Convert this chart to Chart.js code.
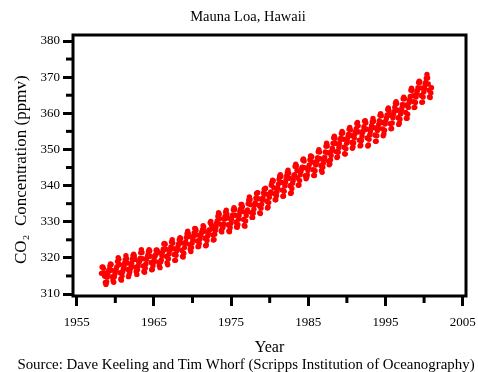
<!DOCTYPE html>
<html>
<head>
<meta charset="utf-8">
<script src="https://cdn.jsdelivr.net/npm/chart.js@4"></script>
<style>
  html, body { margin: 0; padding: 0; background: #fff; }
</style>
</head>
<body>
<canvas id="co2Chart" width="478" height="372"></canvas>
<script>
// Monthly CO2 at Mauna Loa (ppmv), starting March 1958
const firstYear = 1958;
const firstMonth = 3;

const co2_1950s = [
  315.71, 317.45, 317.50, 317.10, 315.86, 314.93, 313.20, 312.66, 313.33, 314.67,
  315.62, 316.38, 316.71, 317.72, 318.29, 318.15, 316.54, 314.80, 313.84, 313.26, 314.80, 315.58
];
const co2_1960s = [
  316.43, 316.97, 317.58, 319.02, 320.03, 319.59, 318.18, 315.91, 314.16, 313.83, 315.00, 316.19,
  316.93, 317.70, 318.54, 319.48, 320.58, 319.77, 318.57, 316.79, 314.80, 315.38, 316.10, 317.01,
  317.94, 318.56, 319.68, 320.63, 321.01, 320.55, 319.58, 317.40, 316.26, 315.42, 316.69, 317.69,
  318.74, 319.08, 319.86, 321.39, 322.25, 321.47, 319.74, 317.77, 316.21, 315.99, 317.12, 318.31,
  319.57, 320.07, 320.73, 321.77, 322.25, 321.89, 320.44, 318.70, 316.70, 316.79, 317.79, 318.71,
  319.44, 320.44, 320.89, 322.13, 322.16, 321.87, 321.39, 318.81, 317.81, 317.30, 318.87, 319.42,
  320.62, 321.59, 322.39, 323.87, 324.01, 323.75, 322.39, 320.37, 318.64, 318.10, 319.79, 321.08,
  322.07, 322.50, 323.04, 324.42, 325.00, 324.09, 322.55, 320.92, 319.31, 319.31, 320.72, 321.96,
  322.57, 323.15, 323.89, 325.02, 325.57, 325.36, 324.14, 322.03, 320.41, 320.25, 321.31, 322.84,
  324.00, 324.42, 325.64, 326.66, 327.38, 326.70, 325.89, 323.67, 322.38, 321.78, 322.85, 324.11
];
const co2_1970s = [
  325.03, 325.99, 326.87, 328.13, 328.07, 327.66, 326.35, 324.69, 323.10, 323.16, 323.98, 325.13,
  326.17, 326.68, 327.18, 327.78, 328.92, 328.57, 327.34, 325.46, 323.36, 323.57, 324.80, 326.01,
  326.77, 327.63, 327.75, 329.72, 330.07, 329.09, 328.05, 326.32, 324.93, 325.06, 326.50, 327.55,
  328.54, 329.56, 330.30, 331.50, 332.48, 332.07, 330.87, 329.31, 327.51, 327.18, 328.16, 328.64,
  329.35, 330.71, 331.48, 332.65, 333.16, 332.06, 330.99, 329.17, 327.41, 327.21, 328.34, 329.50,
  330.68, 331.41, 331.85, 333.29, 333.91, 333.40, 331.78, 329.88, 328.57, 328.46, 329.26, 330.67,
  331.71, 332.76, 333.48, 334.78, 334.78, 334.17, 332.78, 330.64, 328.95, 328.77, 330.23, 331.69,
  332.70, 333.24, 334.96, 336.04, 336.82, 336.13, 334.73, 332.52, 331.19, 331.19, 332.35, 333.47,
  334.71, 335.23, 336.54, 337.79, 337.95, 338.00, 336.37, 334.47, 332.46, 332.29, 333.76, 334.80,
  336.00, 336.63, 337.93, 338.95, 339.05, 339.27, 337.64, 335.68, 333.77, 334.09, 335.29, 336.76
];
const co2_1980s = [
  337.77, 338.26, 340.10, 340.88, 341.47, 341.31, 339.41, 337.74, 336.07, 336.07, 337.22, 338.38,
  339.32, 340.41, 341.69, 342.51, 343.02, 342.54, 340.88, 338.75, 337.05, 337.13, 338.45, 339.85,
  340.90, 341.70, 342.70, 343.65, 344.28, 343.42, 342.02, 339.97, 337.84, 338.00, 339.20, 340.63,
  341.41, 342.68, 343.04, 345.27, 345.92, 345.40, 344.16, 342.11, 340.11, 340.15, 341.38, 343.02,
  343.87, 344.59, 345.11, 347.07, 347.38, 346.78, 344.96, 342.71, 341.86, 342.21, 342.92, 344.14,
  344.99, 345.73, 347.13, 348.18, 348.16, 347.95, 346.53, 344.36, 342.81, 342.77, 344.13, 345.66,
  346.36, 346.79, 347.69, 349.38, 349.93, 349.26, 347.44, 345.55, 344.21, 343.67, 345.09, 346.27,
  347.33, 347.82, 349.29, 350.91, 351.71, 350.94, 349.10, 346.77, 345.73, 346.01, 347.18, 348.33,
  349.61, 350.31, 351.69, 353.17, 353.69, 353.10, 351.67, 349.38, 347.78, 347.95, 349.21, 350.45,
  351.51, 352.66, 353.11, 354.39, 354.99, 354.56, 352.80, 350.60, 348.81, 348.71, 350.21, 351.69
];
const co2_1990s = [
  352.71, 353.44, 354.12, 355.61, 356.10, 355.38, 353.83, 351.92, 350.34, 350.67, 351.79, 353.17,
  354.34, 354.88, 355.74, 357.18, 357.47, 356.52, 354.84, 352.53, 350.98, 351.17, 352.50, 353.67,
  354.68, 355.21, 356.31, 357.82, 357.97, 357.35, 355.60, 353.16, 350.97, 351.25, 352.79, 354.00,
  354.95, 355.86, 356.64, 357.68, 358.57, 357.81, 356.00, 353.99, 352.24, 352.25, 353.77, 355.23,
  356.16, 356.94, 357.97, 359.45, 359.89, 359.34, 357.45, 355.65, 353.80, 354.29, 355.33, 357.02,
  357.94, 358.70, 359.54, 361.08, 361.46, 360.65, 359.47, 357.13, 355.70, 355.82, 357.30, 358.77,
  359.77, 360.48, 361.67, 362.78, 363.22, 362.68, 360.83, 358.77, 356.92, 357.31, 358.37, 359.80,
  360.81, 361.49, 362.44, 364.03, 364.45, 364.00, 362.27, 360.21, 358.61, 358.62, 359.74, 361.63,
  362.89, 363.74, 364.63, 366.38, 366.92, 366.37, 364.84, 363.22, 361.57, 361.65, 362.97, 364.51,
  365.48, 366.25, 367.05, 368.52, 368.85, 368.59, 367.03, 364.93, 363.03, 363.09, 364.50, 365.86
];
const co2_2000 = [
  366.95, 367.82, 368.51, 369.69, 370.73, 369.78, 368.09, 366.36, 364.55, 364.38, 365.62, 367.08
];

const yearTicks = [1955, 1965, 1975, 1985, 1995, 2005];
const ppmvTicks = [310, 320, 330, 340, 350, 360, 370, 380];

const titleText = "Mauna Loa, Hawaii";
const sourceText = "Source: Dave Keeling and Tim Whorf (Scripps Institution of Oceanography)";

const allValues = [].concat(co2_1950s, co2_1960s, co2_1970s, co2_1980s, co2_1990s, co2_2000);
const points = allValues.map((v, i) => {
    const m = firstMonth - 1 + i;
    const year = firstYear + Math.floor(m / 12);
    return { x: year + ((m % 12) + 0.5) / 12, y: v };
});

const serif = "'Liberation Serif', 'Times New Roman', serif";

const frameAndText = {
    id: 'frameAndText',
    afterDraw: chart => {
        const ctx = chart.ctx;
        const a = chart.chartArea;
        ctx.save();
        ctx.strokeStyle = '#000';
        ctx.lineWidth = 3;
        ctx.strokeRect(a.left, a.top, a.right - a.left, a.bottom - a.top);

        // shorter minor ticks
        chart.scales.x.ticks.forEach(t => {
            if (!yearTicks.includes(t.value)) {
                const px = chart.scales.x.getPixelForValue(t.value);
                ctx.beginPath();
                ctx.moveTo(px, a.bottom);
                ctx.lineTo(px, a.bottom + 7);
                ctx.stroke();
            }
        });
        chart.scales.y.ticks.forEach(t => {
            if (!ppmvTicks.includes(t.value)) {
                const py = chart.scales.y.getPixelForValue(t.value);
                ctx.beginPath();
                ctx.moveTo(a.left, py);
                ctx.lineTo(a.left - 7, py);
                ctx.stroke();
            }
        });

        ctx.fillStyle = '#000';
        ctx.textAlign = 'center';
        ctx.textBaseline = 'middle';
        ctx.font = "14.5px " + serif;
        ctx.fillText(titleText, 248, 17);
        ctx.font = "14.9px " + serif;
        ctx.fillText(sourceText, 246, 365);
        ctx.restore();
    }
};

new Chart(document.getElementById("co2Chart").getContext("2d"), {
    type: 'scatter',
    data: {
        datasets: [{
            label: 'CO2',
            data: points,
            backgroundColor: '#ff0000',
            borderWidth: 0,
            pointRadius: 2.7,
            pointHoverRadius: 2.7
        }]
    },
    options: {
        responsive: false,
        animation: false,
        layout: { padding: { top: 35, right: 12, bottom: 14, left: 0 } },
        plugins: {
            legend: { display: false },
            tooltip: { enabled: false }
        },
        scales: {
            x: {
                type: 'linear',
                min: 1954.52,
                max: 2005.43,
                afterFit: scale => {
                    scale.height = 62;
                    scale.paddingLeft = 0;
                    scale.paddingRight = 0;
                },
                border: { display: false },
                grid: {
                    drawOnChartArea: false,
                    drawTicks: true,
                    tickLength: 10,
                    tickWidth: 3,
                    tickColor: ctx => yearTicks.includes(ctx.tick.value) ? '#000' : 'rgba(0,0,0,0)'
                },
                ticks: {
                    stepSize: 5,
                    includeBounds: false,
                    maxRotation: 0,
                    autoSkip: false,
                    padding: 9,
                    color: '#000',
                    font: { family: serif, size: 13 },
                    callback: v => yearTicks.includes(v) ? String(v) : ''
                },
                title: {
                    display: true,
                    text: 'Year',
                    color: '#000',
                    font: { family: serif, size: 16 },
                    padding: { top: 0, bottom: 1 }
                }
            },
            y: {
                min: 309.45,
                max: 381.66,
                afterFit: scale => {
                    scale.width = 73;
                    scale.paddingTop = 0;
                    scale.paddingBottom = 0;
                },
                border: { display: false },
                grid: {
                    drawOnChartArea: false,
                    drawTicks: true,
                    tickLength: 10,
                    tickWidth: 3,
                    tickColor: ctx => ppmvTicks.includes(ctx.tick.value) ? '#000' : 'rgba(0,0,0,0)'
                },
                ticks: {
                    stepSize: 5,
                    includeBounds: false,
                    autoSkip: false,
                    padding: 3,
                    color: '#000',
                    font: { family: serif, size: 13 },
                    callback: v => ppmvTicks.includes(v) ? String(v) : ''
                },
                title: {
                    display: true,
                    // trailing spaces nudge the centred label slightly downward
                    text: 'CO\u2082  Concentration (ppmv)  ',
                    color: '#000',
                    font: { family: serif, size: 17 },
                    padding: { top: 11, bottom: 0 }
                }
            }
        }
    },
    plugins: [frameAndText]
});
</script>
</body>
</html>
